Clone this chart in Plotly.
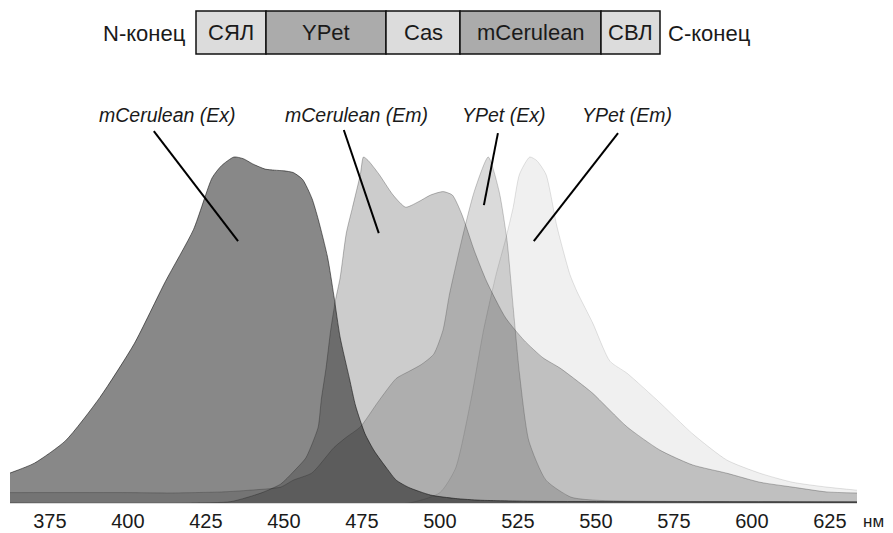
import plotly.graph_objects as go

# ---------------- data ----------------
wl_cer_ex = [362, 370, 380, 391, 402, 412, 421, 427, 430, 434, 437, 440, 444, 447, 450, 453,
             456, 459, 461, 464, 466, 468, 471, 473, 476, 479, 483, 486, 490, 497, 505, 513, 530, 633.7]
v_cer_ex = [0.086, 0.115, 0.18, 0.305, 0.46, 0.64, 0.79, 0.94, 0.975, 1.0, 0.995, 0.98, 0.965, 0.962, 0.96, 0.955,
            0.935, 0.88, 0.82, 0.71, 0.6, 0.48, 0.36, 0.28, 0.2, 0.15, 0.1, 0.066, 0.045, 0.023, 0.013, 0.008, 0.005, 0.003]

wl_cer_em = [362, 420, 433, 443, 449, 453, 457, 459, 461, 462, 463.5, 465, 466.5, 468, 470, 472, 474.5, 475.5,
             477, 480.5, 485, 489, 493, 497, 501, 504, 507, 511, 515, 521, 527, 533, 538.5, 545, 549, 560,
             570.5, 581, 592, 602.6, 613, 624, 633.7]
v_cer_em = [0.0, 0.0, 0.004, 0.03, 0.055, 0.09, 0.13, 0.17, 0.22, 0.3, 0.39, 0.5, 0.585, 0.65, 0.78, 0.855, 0.95, 1.0,
            0.99, 0.95, 0.89, 0.855, 0.87, 0.89, 0.9, 0.89, 0.835, 0.73, 0.64, 0.536, 0.47, 0.42, 0.39, 0.346, 0.317, 0.22,
            0.153, 0.11, 0.086, 0.06, 0.046, 0.032, 0.029]

wl_ypet_ex = [362, 400, 413, 430, 439, 449, 453, 459, 466, 470, 474.5, 480, 486, 490, 494, 498, 501, 503,
              507, 511, 515.5, 519, 521.5, 523.5, 525.5, 528.5, 534, 542, 550, 633.7]
v_ypet_ex = [0.03, 0.03, 0.029, 0.032, 0.037, 0.046, 0.066, 0.087, 0.16, 0.19, 0.22, 0.29, 0.36, 0.38, 0.4, 0.43, 0.5, 0.6,
             0.76, 0.9, 1.0, 0.9, 0.76, 0.565, 0.375, 0.18, 0.066, 0.017, 0.008, 0.004]

wl_ypet_em = [362, 490, 500, 505, 510, 514, 518, 521, 523.5, 525.5, 528.8, 531, 534, 537.5, 541.7, 544, 549,
              554.5, 560, 570.5, 581, 592, 602.6, 613, 624, 633.7]
v_ypet_em = [0.0, 0.0, 0.03, 0.1, 0.3, 0.5, 0.66, 0.76, 0.855, 0.95, 1.0, 0.99, 0.95, 0.8, 0.66, 0.61, 0.52,
             0.41, 0.375, 0.29, 0.2, 0.124, 0.086, 0.06, 0.046, 0.037]

tick_vals = [375, 400, 425, 450, 475, 500, 525, 550, 575, 600, 625]
tick_text = [str(t) for t in tick_vals]

series_names = ["mCerulean (Ex)", "mCerulean (Em)", "YPet (Ex)", "YPet (Em)"]
series_x = [wl_cer_ex, wl_cer_em, wl_ypet_ex, wl_ypet_em]
series_y = [v_cer_ex, v_cer_em, v_ypet_ex, v_ypet_em]
series_alpha = [0.467, 0.2, 0.145, 0.059]

# label positions (nm, relative intensity) and leader lines
label_x = [412.8, 473.4, 520.5, 559.9]
label_y = [1.121, 1.121, 1.121, 1.121]
lead_x0 = [408.3, 469.2, 518.6, 557.1]
lead_y0 = [1.075, 1.078, 1.069, 1.069]
lead_x1 = [435.3, 480.4, 514.1, 530.1]
lead_y1 = [0.757, 0.780, 0.861, 0.757]

# construct diagram
seg_names = ["СЯЛ", "YPet", "Cas", "mCerulean", "СВЛ"]
seg_edges_px = [196, 266, 386, 460, 601, 660]
seg_colors = ["#dcdcdc", "#ababab", "#dcdcdc", "#ababab", "#dcdcdc"]

W, H = 893, 533
ML, MR, MT, MB = 10, 36, 100, 30
PLOT_W = W - ML - MR
PLOT_H = H - MT - MB
Y_MAX = PLOT_H / 346.0


def px_x(px):
    return (px - ML) / PLOT_W


def px_y(py):
    return (H - MB - py) / PLOT_H


FONT = "Liberation Sans, Arial, sans-serif"
TXT = "#1a1a1a"

fig = go.Figure()
for name, xs, ys, a in zip(series_names, series_x, series_y, series_alpha):
    fig.add_trace(go.Scatter(
        x=xs, y=ys, name=name, mode="lines", fill="tozeroy",
        fillcolor=f"rgba(0,0,0,{a})",
        line=dict(color=f"rgba(0,0,0,{min(1, a + 0.05)})", width=1, shape="spline", smoothing=0.6),
        hoverinfo="skip", showlegend=False))

shapes = []
annotations = []
for name, lx, ly, x0, y0, x1, y1 in zip(series_names, label_x, label_y, lead_x0, lead_y0, lead_x1, lead_y1):
    annotations.append(dict(x=lx, y=ly, xref="x", yref="y", text=name, showarrow=False,
                            font=dict(family=FONT, size=19.5, color=TXT, style="italic"),
                            xanchor="center", yanchor="middle"))
    shapes.append(dict(type="line", xref="x", yref="y", x0=x0, y0=y0, x1=x1, y1=y1,
                       line=dict(color="black", width=2)))

box_top, box_bot = px_y(11), px_y(54)
for i, (nm, col) in enumerate(zip(seg_names, seg_colors)):
    xa, xb = px_x(seg_edges_px[i]), px_x(seg_edges_px[i + 1])
    shapes.append(dict(type="rect", xref="paper", yref="paper", x0=xa, x1=xb, y0=box_bot, y1=box_top,
                       fillcolor=col, line=dict(color="#111", width=1.5), layer="above"))
    annotations.append(dict(x=(xa + xb) / 2, y=(box_top + box_bot) / 2, xref="paper", yref="paper",
                            text=nm, showarrow=False, font=dict(family=FONT, size=22, color=TXT),
                            xanchor="center", yanchor="middle"))

annotations.append(dict(x=px_x(188), y=px_y(33), xref="paper", yref="paper", text="N-конец",
                        showarrow=False, font=dict(family=FONT, size=22, color=TXT),
                        xanchor="right", yanchor="middle"))
annotations.append(dict(x=px_x(666), y=px_y(33), xref="paper", yref="paper", text="С-конец",
                        showarrow=False, font=dict(family=FONT, size=22, color=TXT),
                        xanchor="left", yanchor="middle"))
annotations.append(dict(x=px_x(861), y=px_y(521), xref="paper", yref="paper", text="нм",
                        showarrow=False, font=dict(family=FONT, size=17, color=TXT),
                        xanchor="left", yanchor="middle"))

fig.update_layout(
    width=W, height=H,
    margin=dict(l=ML, r=MR, t=MT, b=MB, pad=0, autoexpand=False),
    paper_bgcolor="white", plot_bgcolor="white",
    shapes=shapes, annotations=annotations,
    xaxis=dict(range=[362.2, 633.7], tickvals=tick_vals, ticktext=tick_text, automargin=False,
               showgrid=False, zeroline=False, showline=True, linecolor="#d9d9d9", linewidth=1,
               ticks="",
               tickfont=dict(family=FONT, size=20, color=TXT)),
    yaxis=dict(range=[0, Y_MAX], visible=False, showgrid=False, zeroline=False, automargin=False),
)

fig.write_html("out.html", config={"displayModeBar": False},
               post_script="document.body.style.margin='0';document.body.style.overflow='hidden';")
